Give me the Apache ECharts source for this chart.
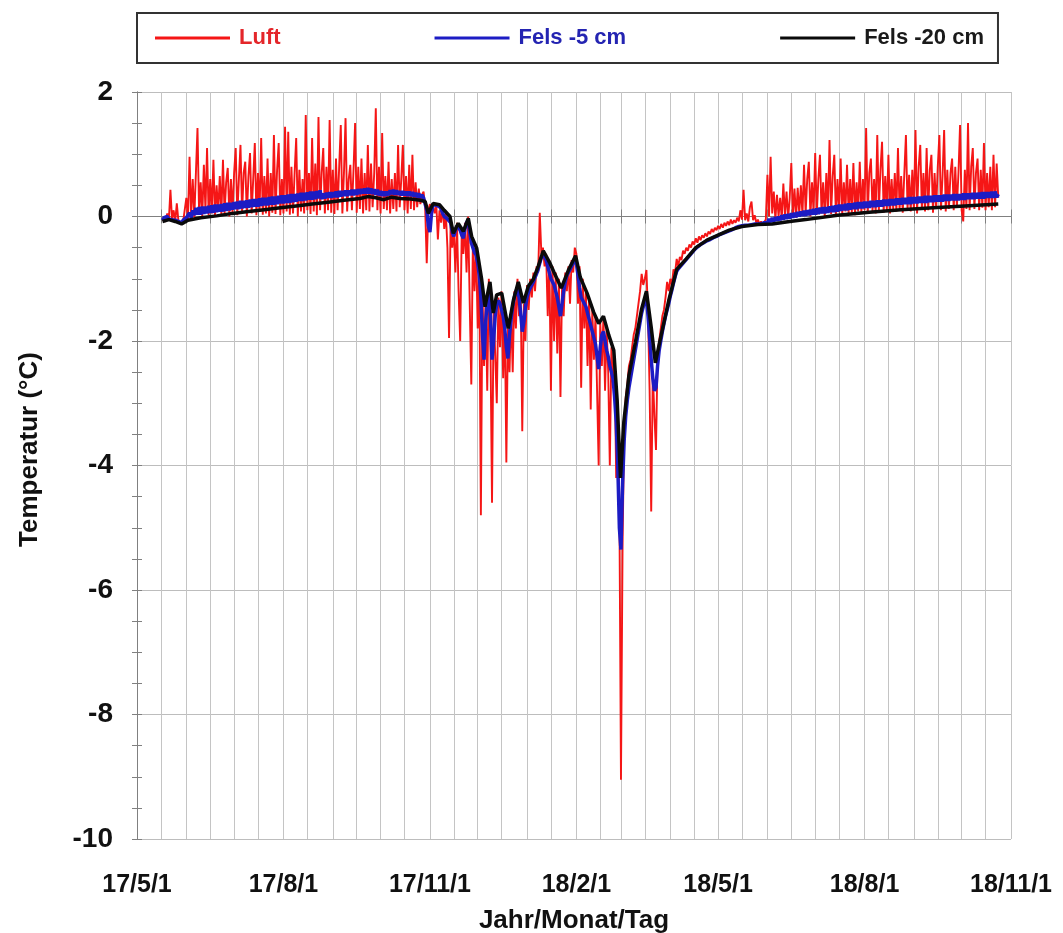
<!DOCTYPE html>
<html>
<head>
<meta charset="utf-8">
<script src="https://cdn.jsdelivr.net/npm/echarts@6/dist/echarts.min.js"></script>
<style>
  html, body { margin: 0; padding: 0; background: #fff; }
  #chart { width: 1063px; height: 933px; }
</style>
</head>
<body>
<div id="chart"></div>
<script>
// Tage ab 17/5/1; Luft und Fels -5 cm als Tageswerte ab Tag 16
const startTag = 16

const luft = [
  -0.05, -0.02, -0.08, 0.05, -0.06, 0.43, -0.05, 0.1, -0.08, 0.21,
  -0.07, -0.1, -0.12, -0.08, -0.1, 0.3, -0.05, 0.96, 0.0, 0.6,
  -0.02, 0.7, 1.42, 0.05, 0.55, 0.0, 0.83, 0.1, 1.1, 0.02,
  0.6, 0.05, 0.91, 0.0, 0.5, 0.08, 0.65, 0.02, 0.91, 0.05,
  0.55, 0.78, 0.0, 0.6, 0.05, 0.7, 1.1, 0.02, 0.6, 1.15,
  0.05, 0.7, 0.88, 0.0, 0.65, 1.02, 0.05, 0.6, 1.18, 0.02,
  0.7, 0.08, 1.26, 0.03, 0.65, 0.05, 0.93, 0.0, 0.7, 0.06,
  1.31, 0.04, 0.75, 1.18, 0.02, 0.6, 0.05, 1.44, 0.08, 1.36,
  0.03, 0.8, 0.05, 0.7, 1.26, 0.0, 0.75, 0.08, 0.6, 0.05,
  1.63, 0.1, 0.7, 0.04, 1.26, 0.08, 0.85, 0.02, 1.6, 0.1,
  0.7, 1.1, 0.05, 0.8, 0.1, 1.55, 0.06, 0.75, 0.04, 0.93,
  0.1, 0.8, 1.47, 0.05, 0.7, 1.58, 0.08, 0.6, 0.83, 0.1,
  0.75, 1.5, 0.06, 0.8, 0.12, 0.93, 0.05, 0.7, 0.1, 1.15,
  0.08, 0.85, 0.15, 0.7, 1.74, 0.1, 0.8, 0.05, 1.34, 0.12,
  0.65, 0.1, 0.88, 0.05, 0.6, 0.12, 0.7, 0.08, 1.15, 0.15,
  0.6, 1.15, 0.1, 0.65, 0.05, 0.83, 0.12, 0.99, 0.1, 0.55,
  0.15, 0.45, 0.2, 0.35, 0.4, 0.15, -0.75, 0.1, 0.2, 0.05,
  0.15, 0.05, 0.2, -0.37, 0.1, -0.1, 0.15, -0.2, 0.05, -0.5,
  -1.95, -0.1, -0.5, -0.2, -0.9, -0.1, -1.2, -2.0, -0.2, -0.6,
  -0.1, -0.9, 0.0, -1.4, -2.7, -0.35, -1.2, -0.5, -1.8, -0.8,
  -4.8, -1.2, -2.4, -1.3, -2.8, -1.0, -2.0, -4.6, -1.5, -2.2,
  -3.0, -1.3, -2.1, -1.2, -2.6, -1.5, -3.95, -1.8, -2.5, -1.5,
  -2.5, -1.2, -1.8, -1.0, -1.6, -1.2, -3.45, -1.4, -2.0, -1.1,
  -1.5, -1.0, -1.3, -0.9, -1.2, -0.8, -0.9, 0.06, -0.6, -0.5,
  -0.8, -0.6, -1.6, -0.7, -2.8, -0.8, -2.0, -0.9, -2.2, -1.0,
  -2.9, -1.1, -1.6, -0.9, -1.2, -0.8, -1.4, -0.7, -0.9, -0.5,
  -0.6, -1.4, -0.8, -2.75, -1.0, -1.8, -1.2, -2.4, -1.3, -3.1,
  -1.5, -2.3, -1.6, -2.8, -4.0, -1.7, -2.4, -1.6, -2.8, -1.8,
  -2.5, -4.0, -2.1, -2.7, -2.3, -4.2, -3.2, -4.6, -9.05, -5.3,
  -3.4, -2.9, -2.7, -2.4, -2.3, -2.1, -1.9, -1.8, -1.6, -1.4,
  -1.2, -0.92, -1.1, -1.0, -0.86, -1.6, -2.8, -4.74, -2.5, -3.2,
  -3.75, -2.2, -2.0, -1.8, -1.6, -1.5, -1.3, -1.05, -1.2, -1.0,
  -1.1, -0.85, -0.9, -0.68, -0.8, -0.65, -0.7, -0.55, -0.6, -0.5,
  -0.55, -0.45, -0.5, -0.4, -0.45, -0.35, -0.42, -0.32, -0.38, -0.3,
  -0.34, -0.27, -0.32, -0.24, -0.28, -0.2, -0.25, -0.18, -0.22, -0.15,
  -0.2, -0.12, -0.18, -0.1, -0.15, -0.08, -0.14, -0.05, -0.12, -0.06,
  -0.1, -0.02, -0.08, 0.1, -0.05, 0.43, -0.06, 0.05, -0.08, 0.15,
  0.24, -0.06, 0.02, -0.1, -0.05, -0.12, -0.08, -0.13, -0.1, -0.05,
  0.67, 0.0, 0.96, 0.05, 0.4, -0.05, 0.35, 0.0, 0.3, -0.04,
  0.53, 0.02, 0.4, -0.03, 0.3, 0.86, 0.0, 0.45, -0.02, 0.46,
  0.05, 0.5, 0.02, 0.83, 0.05, 0.6, 0.88, 0.0, 0.55, 0.06,
  1.02, 0.03, 0.6, 0.99, 0.05, 0.55, 0.0, 0.7, 0.06, 1.23,
  0.04, 0.65, 0.99, 0.02, 0.6, 0.07, 0.93, 0.03, 0.55, 0.08,
  0.83, 0.04, 0.6, 0.06, 0.86, 0.02, 0.55, 0.08, 0.88, 0.05,
  0.6, 0.1, 1.42, 0.04, 0.7, 0.93, 0.08, 0.6, 0.05, 1.31,
  0.1, 0.75, 1.2, 0.06, 0.65, 0.1, 0.99, 0.05, 0.6, 0.12,
  0.7, 0.08, 1.1, 0.1, 0.65, 0.06, 0.7, 1.31, 0.12, 0.67,
  0.08, 0.75, 0.1, 1.39, 0.05, 0.8, 1.15, 0.12, 0.7, 0.08,
  1.1, 0.1, 0.75, 0.99, 0.06, 0.7, 0.12, 0.8, 1.31, 0.1,
  0.65, 1.39, 0.08, 0.75, 0.12, 0.7, 0.93, 0.1, 0.8, 0.14,
  0.7, 1.47, 0.1, -0.08, 0.75, 0.12, 1.5, 0.1, 0.8, 1.1,
  0.12, 0.7, 0.93, 0.1, 0.75, 0.14, 1.18, 0.1, 0.7, 0.15,
  0.8, 0.1, 0.99, 0.15, 0.85, 0.3
]

const fels5 = [
  -0.06, -0.02, -0.05, 0.0, -0.04, -0.01, -0.05, -0.02, -0.06, -0.03,
  -0.08, -0.05, -0.1, -0.06, -0.08, -0.02, -0.04, 0.06, -0.02, 0.1,
  0.02, 0.14, 0.03, 0.15, 0.03, 0.16, 0.04, 0.16, 0.05, 0.17,
  0.06, 0.18, 0.06, 0.19, 0.07, 0.19, 0.08, 0.2, 0.08, 0.21,
  0.09, 0.22, 0.1, 0.22, 0.11, 0.23, 0.12, 0.24, 0.12, 0.25,
  0.13, 0.25, 0.14, 0.26, 0.14, 0.27, 0.15, 0.28, 0.16, 0.28,
  0.16, 0.29, 0.17, 0.3, 0.18, 0.3, 0.18, 0.31, 0.19, 0.32,
  0.19, 0.32, 0.2, 0.33, 0.21, 0.34, 0.21, 0.34, 0.22, 0.35,
  0.22, 0.36, 0.23, 0.36, 0.24, 0.37, 0.25, 0.38, 0.25, 0.38,
  0.26, 0.39, 0.27, 0.4, 0.27, 0.4, 0.28, 0.41, 0.29, 0.42,
  0.28, 0.37, 0.29, 0.38, 0.3, 0.39, 0.3, 0.39, 0.31, 0.4,
  0.31, 0.41, 0.32, 0.41, 0.33, 0.42, 0.33, 0.42, 0.34, 0.43,
  0.34, 0.43, 0.35, 0.44, 0.36, 0.44, 0.37, 0.45, 0.37, 0.46,
  0.37, 0.45, 0.36, 0.44, 0.35, 0.43, 0.34, 0.41, 0.33, 0.4,
  0.33, 0.4, 0.34, 0.42, 0.36, 0.43, 0.35, 0.42, 0.35, 0.41,
  0.34, 0.41, 0.34, 0.4, 0.33, 0.4, 0.33, 0.39, 0.32, 0.38,
  0.31, 0.37, 0.3, 0.35, 0.3, 0.28, 0.1, -0.15, -0.25, 0.05,
  0.2, 0.22, 0.18, 0.2, 0.16, 0.12, 0.05, 0.0, -0.02, -0.04,
  -0.02, -0.1, -0.25, -0.32, -0.22, -0.15, -0.17, -0.22, -0.3, -0.35,
  -0.2, -0.1, -0.06, -0.25, -0.42, -0.5, -0.58, -0.62, -0.75, -0.95,
  -1.3, -1.9, -2.3, -1.7, -1.35, -1.2, -1.6, -2.3, -2.0, -1.6,
  -1.4, -1.35, -1.4, -1.4, -1.6, -1.8, -2.1, -2.28, -1.9, -1.65,
  -1.45, -1.3, -1.2, -1.15, -1.3, -1.55, -1.85, -1.7, -1.45, -1.3,
  -1.2, -1.15, -1.1, -1.05, -0.98, -0.92, -0.85, -0.75, -0.66, -0.6,
  -0.62, -0.7, -0.8, -0.9, -1.0, -1.05, -1.1, -1.2, -1.3, -1.45,
  -1.6, -1.4, -1.2, -1.05, -0.95, -0.9, -0.85, -0.8, -0.75, -0.68,
  -0.75, -0.95, -1.15, -1.3, -1.35, -1.4, -1.45, -1.55, -1.65, -1.75,
  -1.85, -1.95, -2.05, -2.25, -2.45, -2.1, -1.9, -1.85, -2.0, -2.15,
  -2.25, -2.4, -2.5, -2.6, -2.9, -3.3, -4.0, -5.0, -5.35, -4.3,
  -3.6, -3.2, -2.95, -2.75, -2.6, -2.45, -2.3, -2.15, -2.0, -1.85,
  -1.7, -1.55, -1.45, -1.35, -1.3, -1.6, -1.95, -2.3, -2.6, -2.8,
  -2.75, -2.4, -2.15, -2.0, -1.85, -1.72, -1.6, -1.5, -1.4, -1.28,
  -1.18, -1.07, -0.97, -0.88, -0.84, -0.81, -0.78, -0.75, -0.72, -0.69,
  -0.66, -0.63, -0.6, -0.57, -0.54, -0.51, -0.49, -0.47, -0.45, -0.44,
  -0.42, -0.4, -0.39, -0.38, -0.37, -0.35, -0.34, -0.33, -0.32, -0.3,
  -0.29, -0.28, -0.27, -0.26, -0.25, -0.24, -0.23, -0.22, -0.21, -0.2,
  -0.18, -0.17, -0.16, -0.16, -0.15, -0.15, -0.14, -0.14, -0.14, -0.13,
  -0.13, -0.12, -0.12, -0.11, -0.12, -0.11, -0.12, -0.11, -0.1, -0.11,
  -0.1, -0.04, -0.09, -0.02, -0.08, -0.01, -0.07, 0.0, -0.06, 0.02,
  -0.05, 0.03, -0.04, 0.04, -0.03, 0.05, -0.02, 0.06, -0.01, 0.07,
  0.0, 0.08, 0.01, 0.09, 0.01, 0.1, 0.02, 0.11, 0.03, 0.12,
  0.03, 0.13, 0.04, 0.14, 0.05, 0.15, 0.05, 0.15, 0.06, 0.16,
  0.07, 0.17, 0.07, 0.18, 0.08, 0.19, 0.09, 0.19, 0.1, 0.2,
  0.1, 0.21, 0.11, 0.21, 0.12, 0.22, 0.12, 0.23, 0.13, 0.23,
  0.13, 0.24, 0.14, 0.24, 0.14, 0.25, 0.15, 0.25, 0.15, 0.26,
  0.16, 0.26, 0.16, 0.27, 0.17, 0.27, 0.17, 0.28, 0.18, 0.28,
  0.18, 0.29, 0.19, 0.29, 0.19, 0.3, 0.2, 0.3, 0.2, 0.31,
  0.2, 0.31, 0.21, 0.31, 0.21, 0.32, 0.22, 0.32, 0.22, 0.33,
  0.22, 0.33, 0.23, 0.33, 0.23, 0.34, 0.24, 0.34, 0.24, 0.34,
  0.24, 0.35, 0.25, 0.35, 0.25, 0.35, 0.26, 0.36, 0.26, 0.36,
  0.26, 0.36, 0.27, 0.37, 0.27, 0.37, 0.28, 0.37, 0.28, 0.38,
  0.28, 0.38, 0.29, 0.38, 0.29, 0.39, 0.29, 0.39, 0.3, 0.39,
  0.3, 0.4, 0.3, 0.4, 0.31, 0.36
]

// Fels -20 cm: Stützpunkte (Tag ab 17/5/1, Wert)
const fels20Tage = [
  16, 20, 24, 28, 32, 40, 50, 60, 70, 80, 90, 100, 110, 120, 130, 140, 145, 150, 155, 160,
  165, 172, 178, 181, 183, 186, 190, 193, 196.6, 198.7, 201.8, 205, 208.1, 210.2, 213.4, 216.5, 218.6, 221.7, 223.8, 225.9,
  229.1, 233.2, 236.4, 239.5, 242.7, 245.8, 248.9, 252, 255.2, 259.4, 262, 266.5, 271, 275.5, 278.5, 282.7, 286.9, 290, 293, 296.4,
  299.5, 301.6, 303.7, 305.8, 309, 313, 317, 320, 323, 325.6, 328.7, 334, 339, 345, 351, 358, 365, 372, 380, 390,
  399, 410, 420, 440, 460, 480, 500, 520, 541
]
const fels20 = [
  -0.08, -0.05, -0.08, -0.12, -0.06, -0.02, 0.01, 0.05, 0.08, 0.11, 0.14, 0.17, 0.2, 0.23, 0.26, 0.29, 0.32, 0.3, 0.27, 0.31,
  0.29, 0.28, 0.26, 0.24, 0.05, 0.21, 0.19, 0.1, 0.0, -0.27, -0.11, -0.24, -0.03, -0.32, -0.51, -1.01, -1.45, -1.05, -1.55, -1.26,
  -1.23, -1.8, -1.35, -1.05, -1.39, -1.12, -1.01, -0.8, -0.55, -0.75, -0.9, -1.15, -0.86, -0.63, -0.98, -1.23, -1.54, -1.72, -1.6, -1.91,
  -2.15, -2.95, -4.2, -3.3, -2.55, -2.03, -1.48, -1.2, -1.78, -2.35, -1.97, -1.35, -0.85, -0.68, -0.5, -0.38, -0.3, -0.22, -0.16, -0.13,
  -0.12, -0.08, -0.05, 0.02, 0.07, 0.11, 0.14, 0.17, 0.2
]

const serienNamen = ['Luft', 'Fels -5 cm', 'Fels -20 cm']
const serienFarben = ['#f51616', '#1c1cc4', '#0a0a0a']
const legendenFarben = ['#e4262a', '#2424b2', '#1a1a1a']

const FONT = "'Liberation Sans', Arial, sans-serif"
const TAG = 86400000
const basis = new Date(2017, 4, 1).getTime()
const tagVon = (j, m, d) => Math.round((new Date(j, m, d).getTime() - basis) / TAG)

const achseMin = 0
const achseMax = tagVon(2018, 10, 1)

// Gitterlinien jeden 1. und 16., Beschriftung alle drei Monate
const halbMonate = []
for (let m = 0; m <= 18; m++) {
  halbMonate.push(tagVon(2017, 4 + m, 1))
  if (m < 18) halbMonate.push(tagVon(2017, 4 + m, 16))
}
const quartale = []
for (let k = 0; k <= 6; k++) quartale.push(tagVon(2017, 4 + 3 * k, 1))

const datumText = (t) => {
  const d = new Date(basis + t * TAG + 12 * 3600000)
  return `${d.getFullYear() % 100}/${d.getMonth() + 1}/${d.getDate()}`
}

const taeglich = (werte) => werte.map((v, i) => [startTag + i, v])

const chart = echarts.init(document.getElementById('chart'))

const option = {
  animation: false,
  backgroundColor: '#fff',
  textStyle: { fontFamily: FONT },
  legend: {
    left: 137,
    top: 13,
    padding: [14, 14, 14, 18],
    borderColor: '#333',
    borderWidth: 2,
    itemWidth: 75,
    itemHeight: 3,
    itemGap: 154,
    icon: 'rect',
    textStyle: { fontFamily: FONT, fontWeight: 'bold', fontSize: 22, padding: [0, 0, 0, 4] },
    data: serienNamen.map((n, i) => ({ name: n, textStyle: { color: legendenFarben[i] } })),
  },
  grid: {
    left: 137,
    right: 52,
    top: 92,
    bottom: 94,
    outerBoundsMode: 'none',
  },
  xAxis: [
    {
      type: 'value',
      min: achseMin,
      max: achseMax,
      name: 'Jahr/Monat/Tag',
      nameLocation: 'middle',
      nameGap: 69,
      nameTextStyle: { fontFamily: FONT, fontWeight: 'bold', fontSize: 26, color: '#111' },
      axisLine: { show: true, lineStyle: { color: '#808080', width: 1 } },
      axisTick: { show: true, inside: false, length: 7, customValues: halbMonate, lineStyle: { color: '#808080' } },
      axisLabel: {
        customValues: quartale,
        margin: 34,
        fontFamily: FONT,
        fontWeight: 'bold',
        fontSize: 25,
        color: '#111',
        formatter: (v) => datumText(v),
      },
      splitLine: { show: true, lineStyle: { color: '#c4c4c4', width: 1 } },
    },
    {
      type: 'value',
      position: 'top',
      min: achseMin,
      max: achseMax,
      axisLine: { show: true, lineStyle: { color: '#808080', width: 1 } },
      axisTick: { show: true, inside: false, length: 7, customValues: halbMonate, lineStyle: { color: '#808080' } },
      axisLabel: { show: false },
      splitLine: { show: false },
    },
  ],
  yAxis: [
    {
      type: 'value',
      min: -10,
      max: 2,
      interval: 2,
      name: 'Temperatur (°C)',
      nameLocation: 'middle',
      nameGap: 94,
      nameTextStyle: { fontFamily: FONT, fontWeight: 'bold', fontSize: 26, color: '#111', padding: [0, 0, 0, 32] },
      axisLine: { show: true, lineStyle: { color: '#808080', width: 1 } },
      axisTick: { show: true, inside: false, length: 5, lineStyle: { color: '#808080' } },
      minorTick: { show: true, splitNumber: 4, length: 5, lineStyle: { color: '#808080' } },
      axisLabel: { margin: 24, fontFamily: FONT, fontWeight: 'bold', fontSize: 28, color: '#111' },
      splitLine: { show: true, lineStyle: { color: '#bdbdbd', width: 1 } },
    },
    {
      type: 'value',
      position: 'right',
      min: -10,
      max: 2,
      interval: 2,
      axisLine: { show: true, lineStyle: { color: '#808080', width: 1 } },
      axisTick: { show: true, inside: false, length: 5, lineStyle: { color: '#808080' } },
      minorTick: { show: true, splitNumber: 4, length: 5, lineStyle: { color: '#808080' } },
      axisLabel: { show: false },
      splitLine: { show: false },
    },
  ],
  series: [
    {
      name: serienNamen[0],
      type: 'line',
      showSymbol: false,
      symbol: 'none',
      data: taeglich(luft),
      lineStyle: { color: serienFarben[0], width: 1.9 },
      itemStyle: { color: serienFarben[0] },
      z: 2,
    },
    {
      name: serienNamen[1],
      type: 'line',
      showSymbol: false,
      symbol: 'none',
      data: taeglich(fels5),
      lineStyle: { color: serienFarben[1], width: 3.5 },
      itemStyle: { color: serienFarben[1] },
      z: 3,
    },
    {
      name: serienNamen[2],
      type: 'line',
      showSymbol: false,
      symbol: 'none',
      data: fels20Tage.map((t, i) => [t, fels20[i]]),
      lineStyle: { color: serienFarben[2], width: 3.5 },
      itemStyle: { color: serienFarben[2] },
      z: 4,
    },
  ],
}

chart.setOption(option)
</script>
</body>
</html>
